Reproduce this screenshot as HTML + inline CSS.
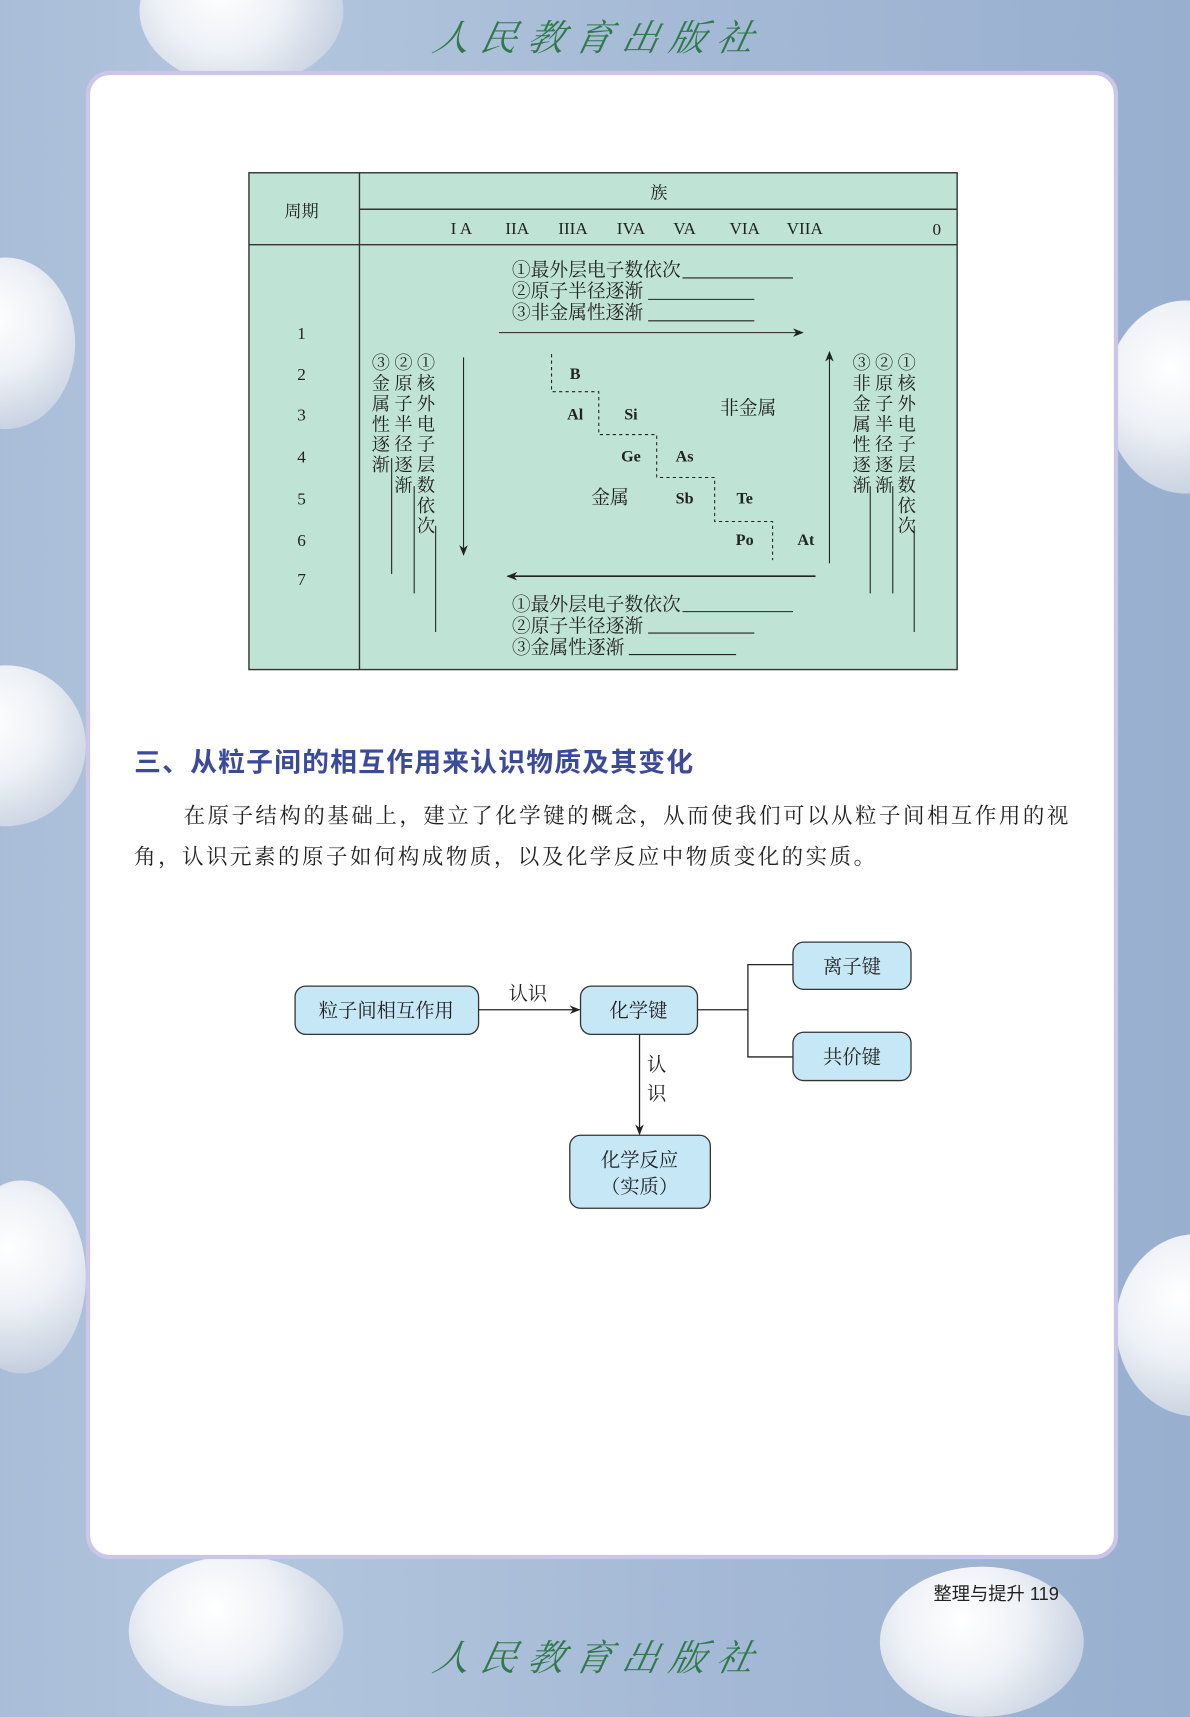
<!DOCTYPE html>
<html><head><meta charset="utf-8">
<style>
html,body{margin:0;padding:0;width:1190px;height:1683px;overflow:hidden}
body{background:linear-gradient(90deg,#a9bdd8 0%,#b3c6de 20%,#a4b9d5 60%,#98afcf 100%);font-family:"Liberation Serif","Noto Serif CJK SC",serif}
#w{position:absolute;left:0;top:0;width:1109px;height:1568px;transform:scale(1.07304);transform-origin:0 0}
.sph{position:absolute;border-radius:50%;background:radial-gradient(circle at 40% 35%,#fff 0%,#eef1f6 40%,#c9d3e2 80%,#b2c2d9 100%)}
.card{position:absolute;left:80px;top:66px;width:954px;height:1379px;background:#fff;border:4px solid #cbc6e8;border-radius:22px}
.t{position:absolute;white-space:nowrap;line-height:1}
.logo{position:absolute;left:405px;font-family:"Noto Serif CJK SC",serif;font-style:italic;color:#2f7a4a;font-size:34px;letter-spacing:10px;transform:skewX(-12deg)}
svg text{font-family:"Liberation Serif","Noto Serif CJK SC",serif}
</style></head><body><div id="w">
<div class="sph" style="left:130px;top:-60px;width:190px;height:140px"></div>
<div class="sph" style="left:-60px;top:240px;width:130px;height:160px"></div>
<div class="sph" style="left:-70px;top:620px;width:150px;height:150px"></div>
<div class="sph" style="left:-40px;top:1100px;width:120px;height:180px"></div>
<div class="sph" style="left:1030px;top:280px;width:150px;height:180px"></div>
<div class="sph" style="left:1040px;top:1150px;width:150px;height:170px"></div>
<div class="sph" style="left:120px;top:1450px;width:200px;height:140px"></div>
<div class="sph" style="left:820px;top:1460px;width:190px;height:140px"></div>
<div class="logo" style="top:8px">人民教育出版社</div>
<div class="logo" style="top:1518px">人民教育出版社</div>
<div class="card"></div>
<svg style="position:absolute;left:0;top:0" width="1109" height="1568">
<defs><marker id="a" markerWidth="10" markerHeight="8" refX="9" refY="4" orient="auto" markerUnits="userSpaceOnUse"><path d="M0,0 L10,4 L0,8 L3,4z" fill="#222"/></marker></defs>
<rect x="232" y="161" width="660" height="463" fill="#bfe3d4" stroke="#333" stroke-width="1.3"/>
<line x1="335" y1="161" x2="335" y2="624" stroke="#333" stroke-width="1.3"/>
<line x1="335" y1="195" x2="892" y2="195" stroke="#333" stroke-width="1.3"/>
<line x1="232" y1="228" x2="892" y2="228" stroke="#333" stroke-width="1.3"/>
<g font-size="16" fill="#222">
<text x="614" y="185" text-anchor="middle">族</text>
<text x="281" y="202" text-anchor="middle">周期</text>
<g text-anchor="middle"><text x="430" y="218">I A</text><text x="482" y="218">IIA</text><text x="534" y="218">IIIA</text><text x="588" y="218">IVA</text><text x="638" y="218">VA</text><text x="694" y="218">VIA</text><text x="750" y="218">VIIA</text><text x="873" y="219">0</text>
<text x="281" y="316">1</text><text x="281" y="354">2</text><text x="281" y="392">3</text><text x="281" y="431">4</text><text x="281" y="470">5</text><text x="281" y="509">6</text><text x="281" y="545">7</text></g>
</g>
<g font-size="17.5" fill="#222">
<text x="477" y="257">①最外层电子数依次</text><text x="477" y="277">②原子半径逐渐</text><text x="477" y="297">③非金属性逐渐</text>
<text x="477" y="569">①最外层电子数依次</text><text x="477" y="589">②原子半径逐渐</text><text x="477" y="609">③金属性逐渐</text>
<text x="671" y="386">非金属</text><text x="551" y="469">金属</text>
</g>
<g stroke="#222" stroke-width="1"><line x1="636" y1="259" x2="739" y2="259"/><line x1="604" y1="279" x2="703" y2="279"/><line x1="604" y1="299" x2="703" y2="299"/>
<line x1="636" y1="570" x2="739" y2="570"/><line x1="604" y1="590" x2="703" y2="590"/><line x1="586" y1="610" x2="686" y2="610"/>
<line x1="465" y1="310" x2="748" y2="310" marker-end="url(#a)"/>
<line x1="760" y1="537" x2="473" y2="537" stroke-width="1.5" marker-end="url(#a)"/>
<line x1="432" y1="333" x2="432" y2="517" marker-end="url(#a)"/>
<line x1="773" y1="525" x2="773" y2="328" marker-end="url(#a)"/>
<line x1="365" y1="427" x2="365" y2="535"/><line x1="386" y1="453" x2="386" y2="553"/><line x1="406" y1="490" x2="406" y2="589"/>
<line x1="811" y1="453" x2="811" y2="553"/><line x1="832" y1="453" x2="832" y2="553"/><line x1="852" y1="490" x2="852" y2="589"/>
</g>
<path d="M514,330 V365 H558 V405 H612 V445 H666 V486 H720 V522" fill="none" stroke="#222" stroke-dasharray="3,3"/>
<g font-size="15" font-weight="bold" fill="#222" text-anchor="middle">
<text x="536" y="353">B</text><text x="536" y="391">Al</text><text x="588" y="391">Si</text><text x="588" y="430">Ge</text><text x="638" y="430">As</text><text x="638" y="469">Sb</text><text x="694" y="469">Te</text><text x="694" y="508">Po</text><text x="751" y="508">At</text></g>
<g font-size="17" fill="#222" text-anchor="middle">
<text x="355" y="344">③</text><text x="376" y="344">②</text><text x="397" y="344">①</text>
<text x="355" y="363">金</text><text x="355" y="382">属</text><text x="355" y="401">性</text><text x="355" y="420">逐</text><text x="355" y="439">渐</text>
<text x="376" y="363">原</text><text x="376" y="382">子</text><text x="376" y="401">半</text><text x="376" y="420">径</text><text x="376" y="439">逐</text><text x="376" y="458">渐</text>
<text x="397" y="363">核</text><text x="397" y="382">外</text><text x="397" y="401">电</text><text x="397" y="420">子</text><text x="397" y="439">层</text><text x="397" y="458">数</text><text x="397" y="477">依</text><text x="397" y="496">次</text>
<text x="803" y="344">③</text><text x="824" y="344">②</text><text x="845" y="344">①</text>
<text x="803" y="363">非</text><text x="803" y="382">金</text><text x="803" y="401">属</text><text x="803" y="420">性</text><text x="803" y="439">逐</text><text x="803" y="458">渐</text>
<text x="824" y="363">原</text><text x="824" y="382">子</text><text x="824" y="401">半</text><text x="824" y="420">径</text><text x="824" y="439">逐</text><text x="824" y="458">渐</text>
<text x="845" y="363">核</text><text x="845" y="382">外</text><text x="845" y="401">电</text><text x="845" y="420">子</text><text x="845" y="439">层</text><text x="845" y="458">数</text><text x="845" y="477">依</text><text x="845" y="496">次</text>
</g>
<!-- flowchart -->
<g fill="#c6e7f6" stroke="#333" stroke-width="1.2">
<rect x="275" y="919" width="171" height="45" rx="10"/><rect x="541" y="919" width="109" height="45" rx="10"/>
<rect x="739" y="878" width="110" height="44" rx="10"/><rect x="739" y="962" width="110" height="45" rx="10"/>
<rect x="531" y="1058" width="131" height="68" rx="10"/></g>
<g stroke="#222" stroke-width="1.2" fill="none">
<line x1="446" y1="941" x2="540" y2="941" marker-end="url(#a)"/>
<path d="M650,941 H697 M739,899 H697 V985 H739"/>
<line x1="596" y1="964" x2="596" y2="1057" marker-end="url(#a)"/></g>
<g font-size="18" fill="#222" text-anchor="middle">
<text x="360" y="948">粒子间相互作用</text><text x="595" y="948">化学键</text><text x="794" y="907">离子键</text><text x="794" y="991">共价键</text>
<text x="596" y="1087">化学反应</text><text x="596" y="1112">（实质）</text>
<text x="492" y="932">认识</text><text x="612" y="998">认</text><text x="612" y="1025">识</text></g>
</svg>
<div class="t" style="left:125px;top:699px;font-family:'Liberation Sans','Noto Sans CJK SC',sans-serif;font-weight:bold;font-size:25px;letter-spacing:1.1px;color:#3c4a9c">三、从粒子间的相互作用来认识物质及其变化</div>
<div class="t" style="left:171px;top:751px;font-size:20px;letter-spacing:2.35px;color:#222">在原子结构的基础上，建立了化学键的概念，从而使我们可以从粒子间相互作用的视</div>
<div class="t" style="left:125px;top:789px;font-size:20px;letter-spacing:2.35px;color:#222">角，认识元素的原子如何构成物质，以及化学反应中物质变化的实质。</div>
<div class="t" style="left:870px;top:1477px;font-family:'Liberation Sans','Noto Sans CJK SC',sans-serif;font-size:17px;color:#222">整理与提升&nbsp;119</div>
</div></body></html>
